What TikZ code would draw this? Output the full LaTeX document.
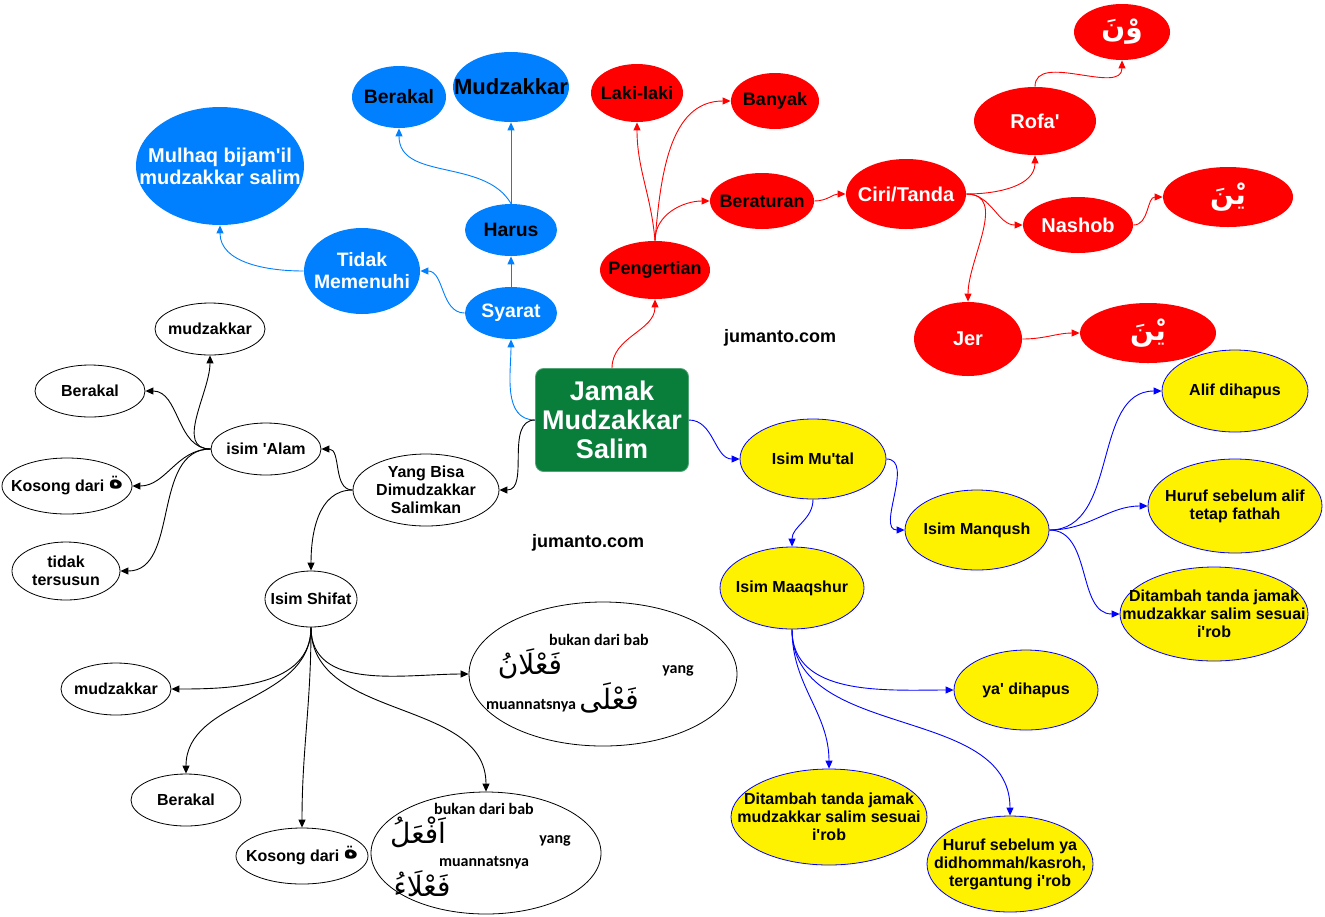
\documentclass[tikz,border=0pt]{standalone}
\usepackage{fontspec}
\setmainfont{Liberation Sans}
\newfontfamily\arabicfont[Script=Arabic]{DejaVu Sans}
\newfontfamily\calibrifont{Carlito}
\TeXXeTstate=1
\usepackage{tikz}
\usetikzlibrary{positioning, arrows.meta, shapes.geometric}
\definecolor{mapblue}{RGB}{0,128,255}
\definecolor{mapgreen}{RGB}{9,125,58}
\newcommand{\arab}[2][14]{{\arabicfont\fontsize{#1}{#1}\selectfont\beginR #2\endR}}

\begin{document}
\begin{tikzpicture}[x=0.5pt, y=-0.5pt,
    mainbox/.style={rectangle, fill=mapgreen, draw=mapgreen!70!white, rounded corners=4pt, minimum width=74.5pt, minimum height=51.5pt, align=center, text=white, font=\bfseries\fontsize{13.5}{14.5}\selectfont},
    bluenode/.style={ellipse, fill=mapblue, inner sep=-30pt, align=center, font=\bfseries\fontsize{9.7}{11}\selectfont},
    rednode/.style={ellipse, fill=red, inner sep=-30pt, align=center, font=\bfseries\fontsize{9}{10.5}\selectfont},
    redwhite/.style={rednode, text=white, font=\bfseries\fontsize{10}{11}\selectfont},
    plainnode/.style={ellipse, draw, fill=white, line width=0.4pt, inner sep=-30pt, align=center, font=\bfseries\fontsize{8}{9}\selectfont},
    yellownode/.style={ellipse, draw=blue, fill=yellow, line width=0.4pt, inner sep=-30pt, align=center, font=\bfseries\fontsize{8}{9}\selectfont},
    smalltext/.style={inner sep=0pt, font=\calibrifont\bfseries\fontsize{8}{9}\selectfont},
    arrow/.style={-{Triangle[length=4pt, width=3.5pt]}, line width=0.45pt},
    bluearrow/.style={arrow, mapblue},
    redarrow/.style={arrow, red},
    blackarrow/.style={arrow, black},
    yellowarrow/.style={arrow, blue}
]
\useasboundingbox (0,0) rectangle (1325,916);

\node[mainbox] (jamak) at (612,420) {Jamak\\Mudzakkar\\Salim};

\node[bluenode, minimum width=47pt, minimum height=31pt] (berakalb) at (399,97) {Berakal};
\node[bluenode, minimum width=58pt, minimum height=35pt, font=\bfseries\fontsize{11}{12}\selectfont] (mudzakkarb) at (511,87) {Mudzakkar};
\node[bluenode, text=white, minimum width=84pt, minimum height=59pt, font=\bfseries\fontsize{10}{11}\selectfont] (mulhaq) at (220,166) {Mulhaq bijam\textquotesingle il\\mudzakkar salim};
\node[bluenode, minimum width=46pt, minimum height=26pt] (harus) at (511,230) {Harus};
\node[bluenode, text=white, minimum width=58pt, minimum height=43pt] (tidak) at (362,271) {Tidak\\Memenuhi};
\node[bluenode, text=white, minimum width=46pt, minimum height=26pt] (syarat) at (511,313) {Syarat};

\node[rednode, minimum width=46pt, minimum height=29pt] (lakilaki) at (637,93) {Laki-laki};
\node[rednode, minimum width=44pt, minimum height=28pt] (banyak) at (775,101) {Banyak};
\node[rednode, minimum width=55pt, minimum height=29pt] (pengertian) at (655,270) {Pengertian};
\node[rednode, minimum width=52pt, minimum height=28pt] (beraturan) at (762,201) {Beraturan};
\node[redwhite, minimum width=60pt, minimum height=35pt] (ciri) at (906,194) {Ciri/Tanda};
\node[redwhite, minimum width=61pt, minimum height=34pt] (rofa) at (1035,121) {Rofa\textquotesingle};
\node[redwhite, minimum width=48pt, minimum height=28pt] (wana) at (1122,32) {\arab{وْنَ}};
\node[redwhite, minimum width=55pt, minimum height=28pt] (nashob) at (1078,225) {Nashob};
\node[redwhite, minimum width=65pt, minimum height=30pt] (yanaone) at (1228,197) {\arab{يْنَ}};
\node[redwhite, minimum width=54pt, minimum height=37pt] (jer) at (968,339) {Jer};
\node[redwhite, minimum width=68pt, minimum height=30pt] (yanatwo) at (1148,333) {\arab{يْنَ}};

\node[plainnode, minimum width=55pt, minimum height=26pt] (mudzone) at (210,329) {mudzakkar};
\node[plainnode, minimum width=55pt, minimum height=26pt] (berakalone) at (90,391) {Berakal};
\node[plainnode, minimum width=55pt, minimum height=26pt] (isimalam) at (266,449) {isim \textquotesingle Alam};
\node[plainnode, minimum width=65pt, minimum height=28pt] (kosongone) at (67,486) {Kosong dari \raisebox{1.5pt}{\arab[12]{ة}}};
\node[plainnode, minimum width=54pt, minimum height=29pt] (tersusun) at (66,571) {tidak\\tersusun};
\node[plainnode, minimum width=73pt, minimum height=36pt] (yangbisa) at (426,490) {Yang Bisa\\Dimudzakkar\\Salimkan};
\node[plainnode, minimum width=46pt, minimum height=28pt] (isimshifat) at (311,599) {Isim Shifat};
\node[plainnode, minimum width=55pt, minimum height=26pt] (mudztwo) at (116,689) {mudzakkar};
\node[plainnode, minimum width=134pt, minimum height=72pt] (fala) at (603,674) {};
\node[plainnode, minimum width=55pt, minimum height=26pt] (berakaltwo) at (186,800) {Berakal};
\node[plainnode, minimum width=66pt, minimum height=28pt] (kosongtwo) at (302,856) {Kosong dari \raisebox{1.5pt}{\arab[12]{ة}}};
\node[plainnode, minimum width=115pt, minimum height=61pt] (afal) at (486,853) {};

\node[smalltext] (bukanone) at (599,640) {bukan dari bab};
\node[inner sep=0pt] (falanar) at (530,664) {\arab{فَعْلَانُ}};
\node[smalltext] (yangone) at (678,671) {yang};
\node[smalltext] (muannatsone) at (531,706) {muannatsnya};
\node[inner sep=0pt] (falaar) at (609,698) {\arab{فَعْلَى}};
\node[smalltext] (bukantwo) at (484,809) {bukan dari bab};
\node[inner sep=0pt] (afalar) at (418,832) {\arab{اَفْعَلُ}};
\node[smalltext] (yangtwo) at (555,841) {yang};
\node[smalltext] (muannatstwo) at (484,863) {muannatsnya};
\node[inner sep=0pt] (falaaar) at (422,884) {\arab{فَعْلَاءُ}};

\node[yellownode, minimum width=73pt, minimum height=40pt] (mutal) at (813,459) {Isim Mu\textquotesingle tal};
\node[yellownode, minimum width=72pt, minimum height=41pt] (maqshur) at (792,588) {Isim Maaqshur};
\node[yellownode, minimum width=72pt, minimum height=40pt] (manqush) at (977,530) {Isim Manqush};
\node[yellownode, minimum width=73pt, minimum height=41pt] (alif) at (1235,391) {Alif dihapus};
\node[yellownode, minimum width=87pt, minimum height=47pt] (fathah) at (1235,506) {Huruf sebelum alif\\tetap fathah};
\node[yellownode, minimum width=94pt, minimum height=47pt] (tambahone) at (1214,614) {Ditambah tanda jamak\\mudzakkar salim sesuai\\i\textquotesingle rob};
\node[yellownode, minimum width=72pt, minimum height=40pt] (yadihapus) at (1026,690) {ya\textquotesingle{} dihapus};
\node[yellownode, minimum width=98pt, minimum height=48pt] (tambahtwo) at (829,817) {Ditambah tanda jamak\\mudzakkar salim sesuai\\i\textquotesingle rob};
\node[yellownode, minimum width=83pt, minimum height=48pt] (hurufya) at (1010,864) {Huruf sebelum ya\\didhommah/kasroh,\\tergantung i\textquotesingle rob};

\node[font=\bfseries\fontsize{9}{10}\selectfont] (webone) at (780,338) {jumanto.com};
\node[font=\bfseries\fontsize{9}{10}\selectfont] (webtwo) at (588,543) {jumanto.com};

\draw[bluearrow] (jamak.west) to[out=180, in=-90] (syarat.south);
\draw[bluearrow] (syarat) -- (harus);
\draw[bluearrow] (syarat.west) to[out=180, in=0] (tidak.east);
\draw[bluearrow] (harus) -- (mudzakkarb);
\draw[bluearrow] (harus.north) to[out=120, in=-90] (berakalb.south);
\draw[bluearrow] (tidak.west) to[out=180, in=-90] (mulhaq.south);

\draw[redarrow] (jamak.north) to[out=90, in=-90] (pengertian.south);
\draw[redarrow] (pengertian.north) to[out=95, in=-90] (lakilaki.south);
\draw[redarrow] (pengertian.north) to[out=85, in=180] (banyak.west);
\draw[redarrow] (pengertian.north) to[out=90, in=180] (beraturan.west);
\draw[redarrow] (beraturan.east) to[out=0, in=180] (ciri.west);
\draw[redarrow] (ciri.east) to[out=0, in=-90] (rofa.south);
\draw[redarrow] (rofa.north) to[out=90, in=-90] (wana.south);
\draw[redarrow] (ciri.east) to[out=0, in=180] (nashob.west);
\draw[redarrow] (nashob.east) to[out=0, in=180] (yanaone.west);
\draw[redarrow] (ciri.east) to[out=0, in=90] (jer.north);
\draw[redarrow] (jer.east) to[out=0, in=180] (yanatwo.west);

\draw[blackarrow] (jamak.west) to[out=180, in=0] (yangbisa.east);
\draw[blackarrow] (yangbisa.west) to[out=180, in=0] (isimalam.east);
\draw[blackarrow] (isimalam.west) to[out=180, in=-90] (mudzone.south);
\draw[blackarrow] (isimalam.west) to[out=180, in=0] (berakalone.east);
\draw[blackarrow] (isimalam.west) to[out=180, in=0] (kosongone.east);
\draw[blackarrow] (isimalam.west) to[out=180, in=0] (tersusun.east);
\draw[blackarrow] (yangbisa.west) to[out=180, in=90] (isimshifat.north);
\draw[blackarrow] (isimshifat.south) to[out=-90, in=0] (mudztwo.east);
\draw[blackarrow] (isimshifat.south) to[out=-90, in=180] (fala.west);
\draw[blackarrow] (isimshifat.south) to[out=-90, in=90] (berakaltwo.north);
\draw[blackarrow] (isimshifat.south) to[out=-90, in=90] (kosongtwo.north);
\draw[blackarrow] (isimshifat.south) to[out=-90, in=90] (afal.north);

\draw[yellowarrow] (jamak.east) to[out=0, in=180] (mutal.west);
\draw[yellowarrow] (mutal.south) to[out=-90, in=90] (maqshur.north);
\draw[yellowarrow] (mutal.east) to[out=0, in=180] (manqush.west);
\draw[yellowarrow] (manqush.east) to[out=0, in=180] (alif.west);
\draw[yellowarrow] (manqush.east) to[out=0, in=180] (fathah.west);
\draw[yellowarrow] (manqush.east) to[out=0, in=180] (tambahone.west);
\draw[yellowarrow] (maqshur.south) to[out=-90, in=180] (yadihapus.west);
\draw[yellowarrow] (maqshur.south) to[out=-90, in=90] (tambahtwo.north);
\draw[yellowarrow] (maqshur.south) to[out=-90, in=90] (hurufya.north);

\end{tikzpicture}
\end{document}
